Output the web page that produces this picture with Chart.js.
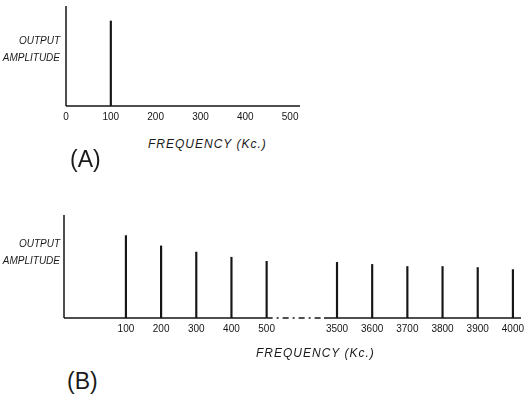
<!DOCTYPE html>
<html>
<head>
<meta charset="utf-8">
<script src="https://cdn.jsdelivr.net/npm/chart.js@4.4.1/dist/chart.umd.min.js"></script>
<style>
  body { margin: 0; background: #fff; width: 531px; height: 397px; position: relative; overflow: hidden; }
  canvas { position: absolute; left: 0; }
  .lbl { position: absolute; font-family: 'Liberation Sans', sans-serif; font-style: italic; color: #1a1a1a; white-space: nowrap; }
  .yl { font-size: 10px; line-height: 17px; text-align: right; width: 60px; left: 0; }
  .xl { font-size: 12px; letter-spacing: 1px; }
  .tag { position: absolute; font-family: 'Liberation Sans', sans-serif; font-size: 23px; color: #1a1a1a; }
</style>
</head>
<body>
<canvas id="chartA" width="531" height="135" style="top:0"></canvas>
<canvas id="chartB" width="531" height="150" style="top:200px"></canvas>

<div class="lbl yl" style="top:32px">OUTPUT<br>AMPLITUDE</div>
<div class="lbl xl" style="left:148px; top:137px">FREQUENCY (Kc.)</div>
<div class="tag" style="left:70px; top:146px">(A)</div>

<div class="lbl yl" style="top:235px">OUTPUT<br>AMPLITUDE</div>
<div class="lbl xl" style="left:256px; top:346px">FREQUENCY (Kc.)</div>
<div class="tag" style="left:67px; top:368px">(B)</div>

<script>
// (A) single 100 kc signal
const freqA = [100];
const ampA = [85];
const ticksA = [0, 100, 200, 300, 400, 500];

// (B) harmonics, axis broken between 500 and 3500
const freqB = ['100', '200', '300', '400', '500', '3500', '3600', '3700', '3800', '3900', '4000'];
const ampB = [80, 70, 64, 59, 55, 54, 52, 50, 50, 49, 47];

const ink = '#151515';

// slot on the broken axis: one empty slot after 500
const slotB = freqB.map((f, i) => i < 5 ? i : i + 1);

const axesPlugin = {
  id: 'axes',
  afterDraw(chart) {
    const { ctx, chartArea: a } = chart;
    ctx.save();
    ctx.strokeStyle = ink;
    ctx.lineWidth = 1.5;
    ctx.beginPath();
    ctx.moveTo(a.left, a.top);
    ctx.lineTo(a.left, a.bottom);
    ctx.stroke();
    const brk = chart.options.plugins.axes.brk;
    if (!brk) {
      ctx.beginPath();
      ctx.moveTo(a.left, a.bottom);
      ctx.lineTo(a.right, a.bottom);
      ctx.stroke();
    } else {
      const x = chart.scales.x;
      const x1 = x.getPixelForValue(brk[0]);
      const x2 = x.getPixelForValue(brk[1]);
      ctx.beginPath();
      ctx.moveTo(a.left, a.bottom);
      ctx.lineTo(x1, a.bottom);
      ctx.moveTo(x2, a.bottom);
      ctx.lineTo(a.right, a.bottom);
      ctx.stroke();
      ctx.setLineDash([6, 4, 2, 4]);
      ctx.beginPath();
      ctx.moveTo(x1, a.bottom);
      ctx.lineTo(x2, a.bottom);
      ctx.stroke();
    }
    ctx.restore();
  }
};

const tickFont = { family: 'Liberation Sans', size: 10 };

new Chart(document.getElementById('chartA'), {
  type: 'bar',
  data: {
    datasets: [{
      data: freqA.map((f, i) => ({ x: f, y: ampA[i] })),
      backgroundColor: ink,
      barThickness: 1.5
    }]
  },
  options: {
    responsive: false,
    animation: false,
    layout: { padding: { left: 66, right: 231, top: 6, bottom: 9 } },
    plugins: { legend: { display: false }, tooltip: { enabled: false }, axes: {} },
    scales: {
      x: {
        type: 'linear', min: 0, max: 522, offset: false,
        grid: { display: false, drawTicks: false },
        border: { display: false },
        afterBuildTicks: s => { s.ticks = ticksA.map(v => ({ value: v })); },
        afterFit: s => { s.height = 20; },
        ticks: { color: ink, font: tickFont, padding: 5, maxRotation: 0 }
      },
      y: { display: false, min: 0, max: 100 }
    }
  },
  plugins: [axesPlugin]
});

new Chart(document.getElementById('chartB'), {
  type: 'bar',
  data: {
    datasets: [{
      data: slotB.map((s, i) => ({ x: s, y: ampB[i] })),
      backgroundColor: ink,
      barThickness: 1.5
    }]
  },
  options: {
    responsive: false,
    animation: false,
    layout: { padding: { left: 64, right: 10, top: 15, bottom: 12 } },
    plugins: { legend: { display: false }, tooltip: { enabled: false }, axes: { brk: [4, 5.63] } },
    scales: {
      x: {
        type: 'linear', min: -1.76, max: 11.23, offset: false,
        grid: { display: false, drawTicks: false },
        border: { display: false },
        afterBuildTicks: s => { s.ticks = slotB.map(v => ({ value: v })); },
        afterFit: s => { s.height = 20; },
        ticks: {
          color: ink, font: tickFont, padding: 5, maxRotation: 0, autoSkip: false,
          callback: v => freqB[slotB.indexOf(v)]
        }
      },
      y: { display: false, min: 0, max: 100 }
    }
  },
  plugins: [axesPlugin]
});
</script>
</body>
</html>
